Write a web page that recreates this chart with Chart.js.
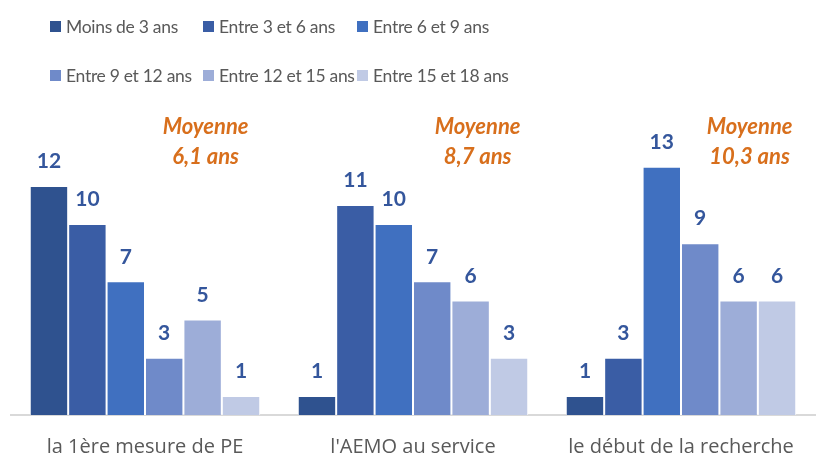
<!DOCTYPE html>
<html>
<head>
<meta charset="utf-8">
<script src="https://cdn.jsdelivr.net/npm/chart.js@4.4.1/dist/chart.umd.min.js"></script>
<style>
  body { margin: 0; background: #fff; }
  #wrap { position: relative; width: 816px; height: 459px; }
  #legend {
    position: absolute; left: 50px; top: 12px;
    display: grid; grid-template-columns: 153px 154px 160px; grid-auto-rows: 49px;
    font: 17.5px Lato, sans-serif; color: #595959; letter-spacing: -0.3px;
  }
  #legend div { display: flex; align-items: center; height: 28px; white-space: nowrap; }
  #legend span.box { width: 11px; height: 11px; margin-right: 5px; display: inline-block; }
</style>
</head>
<body>
<div id="wrap">
  <canvas id="chart" width="816" height="459"></canvas>
  <div id="legend"></div>
</div>
<script>
const categories = ["la 1ère mesure de PE", "l'AEMO au service", "le début de la recherche"];
const seriesNames = ["Moins de 3 ans", "Entre 3 et 6 ans", "Entre 6 et 9 ans",
  "Entre 9 et 12 ans", "Entre 12 et 15 ans", "Entre 15 et 18 ans"];
const moinsDe3 = [12, 1, 1];
const entre3et6 = [10, 11, 3];
const entre6et9 = [7, 10, 13];
const entre9et12 = [3, 7, 9];
const entre12et15 = [5, 6, 6];
const entre15et18 = [1, 3, 6];
const moyennes = ["6,1", "8,7", "10,3"];

const colors = ["#2F528F", "#3A5DA5", "#4070C0", "#6F8AC9", "#9DADD8", "#C0CAE5"];
const series = [moinsDe3, entre3et6, entre6et9, entre9et12, entre12et15, entre15et18];

// numbers above the bars
const valueLabels = {
  id: "valueLabels",
  afterDatasetsDraw(chart) {
    const ctx = chart.ctx;
    ctx.save();
    ctx.font = "bold 21px Lato, sans-serif";
    ctx.fillStyle = "#34569C";
    ctx.textAlign = "center";
    ctx.textBaseline = "bottom";
    chart.data.datasets.forEach((ds, i) => {
      chart.getDatasetMeta(i).data.forEach((bar, j) => {
        ctx.fillText(ds.data[j], bar.x, bar.y - 14);
      });
    });
    ctx.restore();
  }
};

// "Moyenne x ans" notes over each group
const moyenneLabels = {
  id: "moyenneLabels",
  afterDraw(chart) {
    const ctx = chart.ctx;
    const ref = chart.getDatasetMeta(4).data;
    ctx.save();
    ctx.font = "italic bold 22px Lato, sans-serif";
    ctx.fillStyle = "#D86F1C";
    ctx.textAlign = "center";
    ctx.textBaseline = "middle";
    moyennes.forEach((m, j) => {
      const x = ref[j].x + 3 + j * 4;
      ctx.fillText("Moyenne", x, 127);
      ctx.fillText(m + " ans", x, 157);
    });
    ctx.restore();
  }
};

const chart = new Chart(document.getElementById("chart"), {
  type: "bar",
  data: {
    labels: categories,
    datasets: series.map((values, i) => ({
      label: seriesNames[i],
      data: values,
      backgroundColor: colors[i],
      borderColor: "#fff",
      borderWidth: 1,
      categoryPercentage: 0.86,
      barPercentage: 1
    }))
  },
  options: {
    responsive: false,
    animation: false,
    layout: { padding: { left: 11, right: 1, top: 100, bottom: -20 } },
    scales: {
      y: { display: false, min: 0, max: 16.5 },
      x: {
        grid: { display: false, drawTicks: false },
        border: { color: "#D9D9D9", width: 2 },
        ticks: { color: "#595959", font: { family: "Open Sans", size: 20 }, padding: 20 }
      }
    },
    plugins: {
      legend: { display: false },
      tooltip: { enabled: false }
    }
  },
  plugins: [valueLabels, moyenneLabels]
});

// legend laid out as a 3-column grid, built from the chart's own legend items
const legendEl = document.getElementById("legend");
chart.options.plugins.legend.labels.generateLabels(chart).forEach(item => {
  const d = document.createElement("div");
  const b = document.createElement("span");
  b.className = "box";
  b.style.background = item.fillStyle;
  d.appendChild(b);
  d.appendChild(document.createTextNode(item.text));
  legendEl.appendChild(d);
});
</script>
</body>
</html>
